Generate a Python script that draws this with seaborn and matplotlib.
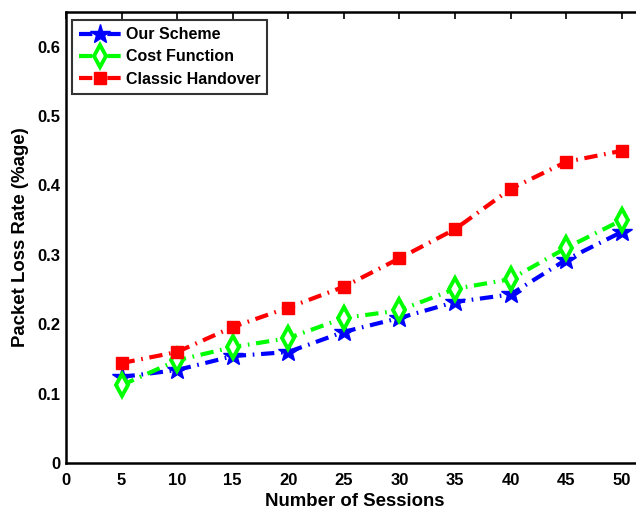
import matplotlib
matplotlib.use("Agg")
import matplotlib.pyplot as plt
import seaborn as sns
import pandas as pd

sessions = [5, 10, 15, 20, 25, 30, 35, 40, 45, 50]
our_scheme = [0.124, 0.134, 0.154, 0.160, 0.189, 0.209, 0.232, 0.243, 0.293, 0.333]
cost_function = [0.112, 0.148, 0.167, 0.180, 0.209, 0.220, 0.251, 0.265, 0.310, 0.350]
classic_handover = [0.144, 0.160, 0.196, 0.224, 0.254, 0.295, 0.337, 0.395, 0.434, 0.450]

x_ticks = [0, 5, 10, 15, 20, 25, 30, 35, 40, 45, 50]
y_ticks = [0, 0.1, 0.2, 0.3, 0.4, 0.5, 0.6]
y_tick_labels = ["0", "0.1", "0.2", "0.3", "0.4", "0.5", "0.6"]

sns.set_style("white")
plt.rcParams["font.family"] = ["Liberation Sans", "DejaVu Sans"]
plt.rcParams["font.weight"] = "bold"
plt.rcParams["text.color"] = "black"
plt.rcParams["axes.labelcolor"] = "black"
plt.rcParams["xtick.color"] = "black"
plt.rcParams["ytick.color"] = "black"

fig = plt.figure(figsize=(6.36, 5.11), dpi=100)
ax = fig.add_axes([66 / 636, 48 / 511, 578 / 636, 451 / 511])

dashdot = (0, (3.2, 1.6, 0.4, 1.6))

df = pd.DataFrame({"x": sessions, "ours": our_scheme,
                   "cost": cost_function, "classic": classic_handover})

sns.lineplot(data=df, x="x", y="ours", ax=ax, color="#0000ff", linestyle=dashdot,
             linewidth=3, marker="*", markersize=15, markeredgewidth=1,
             markeredgecolor="#0000ff", markerfacecolor="#0000ff", label="Our Scheme")
sns.lineplot(data=df, x="x", y="cost", ax=ax, color="#00ff00", linestyle=dashdot,
             linewidth=3, marker="d", markersize=11, markeredgewidth=2.8,
             markeredgecolor="#00ff00", markerfacecolor="white", label="Cost Function")
sns.lineplot(data=df, x="x", y="classic", ax=ax, color="#ff0000", linestyle=dashdot,
             linewidth=3, marker="s", markersize=9, markeredgewidth=1,
             markeredgecolor="#ff0000", markerfacecolor="#ff0000", label="Classic Handover")

ax.set_xlim(0, 52)
ax.set_ylim(0, 0.65)
ax.set_xticks(x_ticks)
ax.set_yticks(y_ticks)
ax.set_yticklabels(y_tick_labels)
ax.tick_params(axis="both", which="both", direction="in", length=5, width=1.2,
               labelsize=12, top=True, right=True, colors="black")
ax.tick_params(axis="x", pad=7)
ax.tick_params(axis="y", pad=4)
for lab in ax.get_xticklabels() + ax.get_yticklabels():
    lab.set_fontweight("bold")
for sp in ax.spines.values():
    sp.set_linewidth(1.8)
    sp.set_color("black")

ax.set_xlabel("Number of Sessions", fontsize=13.4, fontweight="bold", labelpad=4)
ax.set_ylabel("Packet Loss Rate (%age)", fontsize=13.4, fontweight="bold", labelpad=6)

leg = ax.legend(loc="upper left", bbox_to_anchor=(6 / 578, 1 - 8 / 451),
                fontsize=11.5, frameon=True, fancybox=False, handlelength=2.6,
                borderpad=0.45, labelspacing=0.45, handletextpad=0.3, borderaxespad=0)
leg.get_frame().set_edgecolor("black")
leg.get_frame().set_linewidth(1.5)
for t in leg.get_texts():
    t.set_fontweight("bold")
    t.set_color("black")

fig.savefig("out.png", dpi=100)
